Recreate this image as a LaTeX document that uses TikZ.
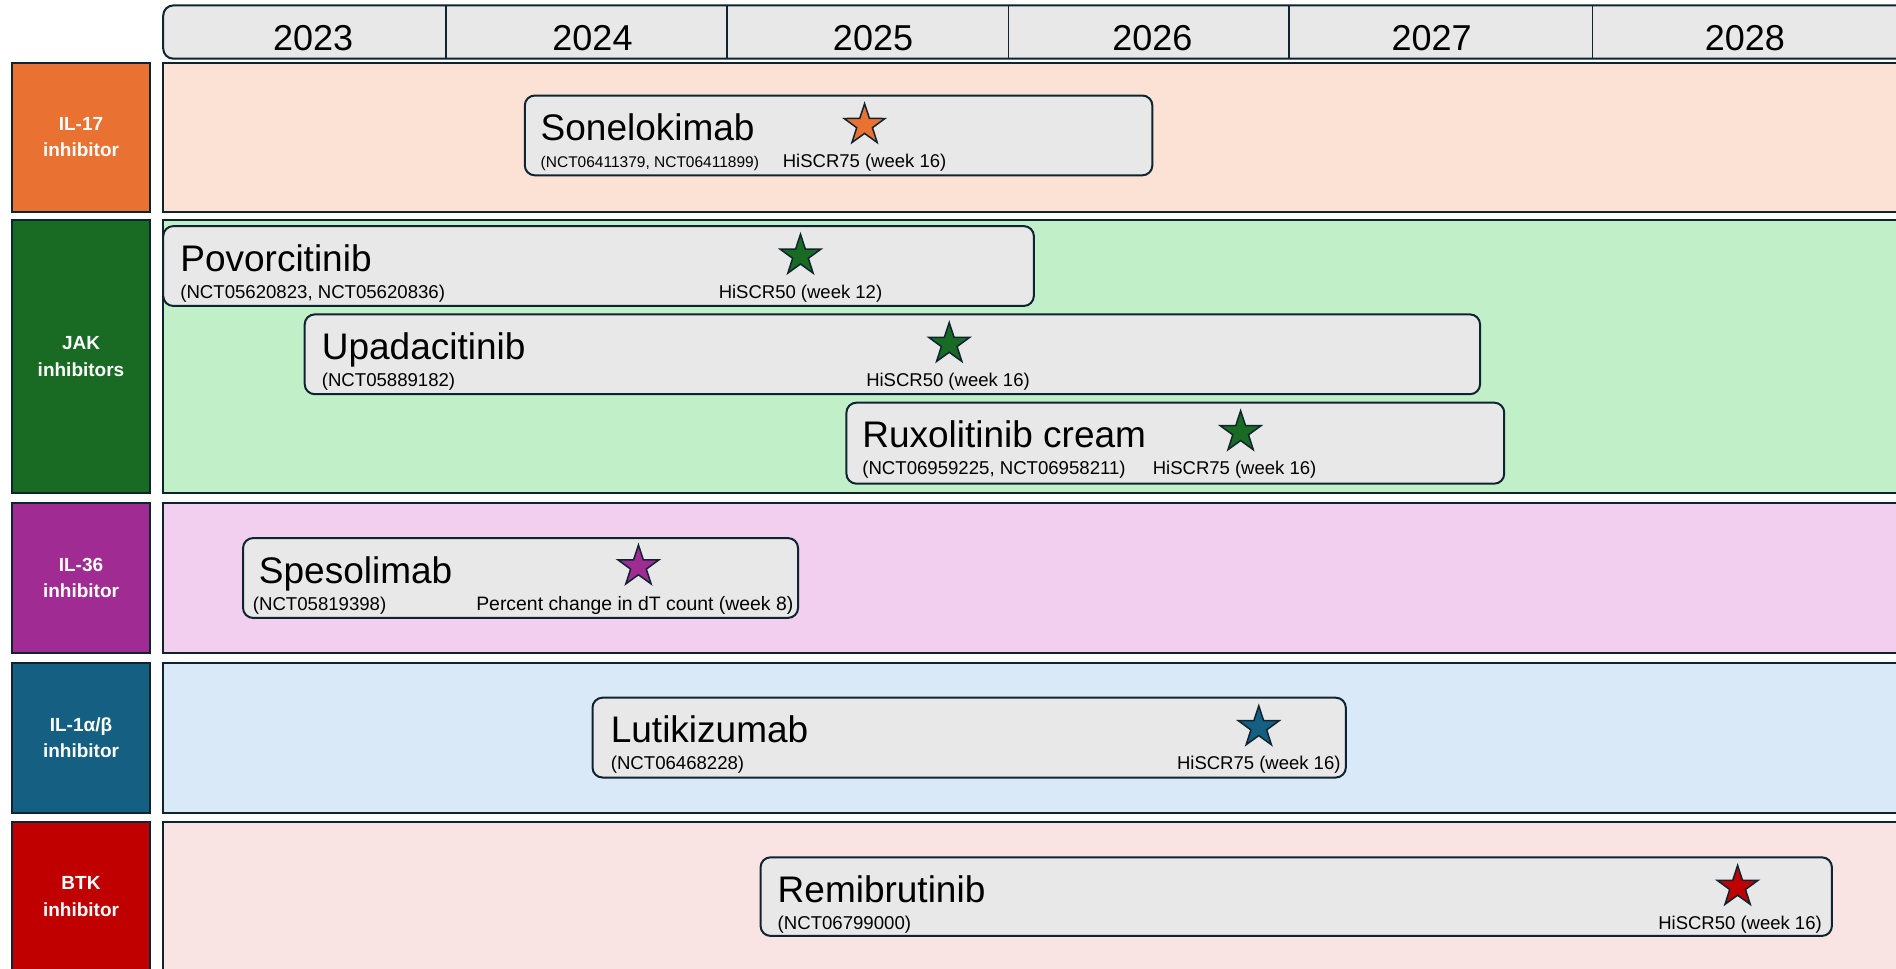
\documentclass[tikz,border=0pt]{standalone}
\usepackage{fontspec}
\setmainfont{Liberation Sans}
\usetikzlibrary{shapes.geometric,fit}
\definecolor{ink}{HTML}{0E2430}
\definecolor{boxgray}{HTML}{E8E8E8}
\definecolor{cO}{HTML}{E97132}\definecolor{bO}{HTML}{FBE2D5}
\definecolor{cG}{HTML}{196B24}\definecolor{bG}{HTML}{C1F0C8}
\definecolor{cP}{HTML}{A02B93}\definecolor{bP}{HTML}{F2CEEF}
\definecolor{cB}{HTML}{156082}\definecolor{bB}{HTML}{DAE9F7}
\definecolor{cR}{HTML}{C00000}\definecolor{bR}{HTML}{F9E3E3}
\begin{document}
\begin{tikzpicture}[x=1.2092pt,y=-1.2092pt,
  band/.style={draw=ink,line width=2pt,inner sep=0pt},
  catbox/.style={draw=ink,line width=2pt,inner sep=0pt},
  cattext/.style={text=white,font=\bfseries\fontsize{19}{26.6}\selectfont,align=center,inner sep=0pt},
  drugbox/.style={draw=ink,line width=2pt,fill=boxgray,rounded corners=10pt,inner sep=0pt},
  drugtitle/.style={anchor=base west,inner sep=0pt,font=\fontsize{37}{40}\selectfont},
  nct/.style={anchor=base west,inner sep=0pt,font=\fontsize{18.6}{22}\selectfont},
  metric/.style={anchor=base,inner sep=0pt,font=\fontsize{18.5}{22}\selectfont},
  goal/.style={star,star points=5,star point ratio=2.6,minimum size=43pt,inner sep=0pt,draw=ink,line width=1.5pt},
  yearlbl/.style={anchor=base,inner sep=0pt,font=\fontsize{36}{40}\selectfont}]
\useasboundingbox (0,0) rectangle (1568,801);
\clip (0,0) rectangle (1568,801);
\fill[white] (0,0) rectangle (1568,801);

% header
\node[drugbox,fit={(135,4.5)(1620,48.5)}] (header) {};
\foreach \x [count=\i] in {369,601,834,1066,1317}{
  \coordinate (dt\i) at (\x,4.5);
  \coordinate (db\i) at (\x,48.5);
  \draw[ink,line width=1.8pt] (dt\i) -- (db\i);
}
\foreach \x/\yr in {259/2023,490/2024,722/2025,953/2026,1184/2027,1443/2028}{
  \node[yearlbl] (y\yr) at (\x,41.5) {\yr};
}

% bands
\node[band,fill=bO,fit={(135,52)(1620,175)}] (bandO) {};
\node[band,fill=bG,fit={(135,182)(1620,408)}] (bandG) {};
\node[band,fill=bP,fit={(135,416)(1620,540)}] (bandP) {};
\node[band,fill=bB,fit={(135,548)(1620,672)}] (bandB) {};
\node[band,fill=bR,fit={(135,680)(1620,810)}] (bandR) {};

% category boxes
\node[catbox,fill=cO,fit={(10,52)(124,175)}] (catO) {};
\node[cattext] (catOt) at (catO.center) {IL-17\\inhibitor};
\node[catbox,fill=cG,fit={(10,182)(124,408)}] (catG) {};
\node[cattext] (catGt) at (catG.center) {JAK\\inhibitors};
\node[catbox,fill=cP,fit={(10,416)(124,540)}] (catP) {};
\node[cattext] (catPt) at (catP.center) {IL-36\\inhibitor};
\node[catbox,fill=cB,fit={(10,548)(124,672)}] (catB) {};
\node[cattext] (catBt) at (catB.center) {IL-1α/β\\inhibitor};
\node[catbox,fill=cR,fit={(10,680)(124,803)}] (catR) {};
\node[cattext] (catRt) at (catR.center) {BTK\\inhibitor};

% Sonelokimab
\node[drugbox,fit={(434,79)(953,145)}] (sone) {};
\node[drugtitle] (soneT) at (447,116.2) {Sonelokimab};
\node[nct,font=\fontsize{15.5}{18}\selectfont] (soneN) at (447,138.5) {(NCT06411379, NCT06411899)};
\node[goal,fill=cO] (soneS) at (715,103.5) {};
\node[metric] (soneM) at (715,138.5) {HiSCR75 (week 16)};

% Povorcitinib
\node[drugbox,fit={(135,187)(855,253)}] (povo) {};
\node[drugtitle] (povoT) at (149,224.2) {Povorcitinib};
\node[nct] (povoN) at (149,246.5) {(NCT05620823, NCT05620836)};
\node[goal,fill=cG] (povoS) at (662,211.5) {};
\node[metric] (povoM) at (662,246.5) {HiSCR50 (week 12)};

% Upadacitinib
\node[drugbox,fit={(252,260)(1224,326)}] (upa) {};
\node[drugtitle] (upaT) at (266,297.2) {Upadacitinib};
\node[nct] (upaN) at (266,319.5) {(NCT05889182)};
\node[goal,fill=cG] (upaS) at (785,284.5) {};
\node[metric] (upaM) at (784,319.5) {HiSCR50 (week 16)};

% Ruxolitinib cream
\node[drugbox,fit={(700,333)(1244,400)}] (rux) {};
\node[drugtitle] (ruxT) at (713,370.2) {Ruxolitinib cream};
\node[nct] (ruxN) at (713,392.5) {(NCT06959225, NCT06958211)};
\node[goal,fill=cG] (ruxS) at (1026,357.5) {};
\node[metric] (ruxM) at (1021,392.5) {HiSCR75 (week 16)};

% Spesolimab
\node[drugbox,fit={(201,445)(660,511)}] (spe) {};
\node[drugtitle] (speT) at (214,482.2) {Spesolimab};
\node[nct] (speN) at (209,504.5) {(NCT05819398)};
\node[goal,fill=cP] (speS) at (528,468.5) {};
\node[metric,font=\fontsize{19.4}{22}\selectfont] (speM) at (525,504.5) {Percent change in dT count (week 8)};

% Lutikizumab
\node[drugbox,fit={(490,577)(1113,643)}] (luti) {};
\node[drugtitle] (lutiT) at (505,614.2) {Lutikizumab};
\node[nct] (lutiN) at (505,636.5) {(NCT06468228)};
\node[goal,fill=cB] (lutiS) at (1041,601.5) {};
\node[metric] (lutiM) at (1041,636.5) {HiSCR75 (week 16)};

% Remibrutinib
\node[drugbox,fit={(629,709)(1515,774)}] (remi) {};
\node[drugtitle] (remiT) at (643,746.2) {Remibrutinib};
\node[nct] (remiN) at (643,768.5) {(NCT06799000)};
\node[goal,fill=cR] (remiS) at (1437,733.5) {};
\node[metric] (remiM) at (1439,768.5) {HiSCR50 (week 16)};
\end{tikzpicture}
\end{document}
